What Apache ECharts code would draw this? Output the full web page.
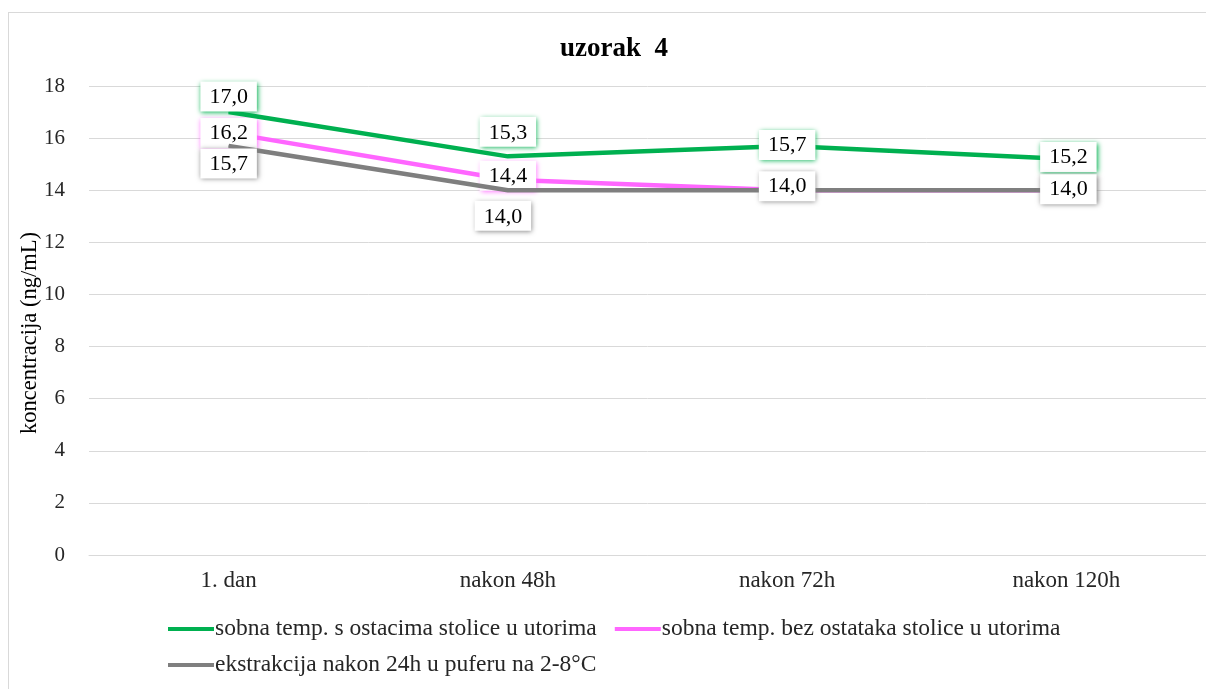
<!DOCTYPE html>
<html>
<head>
<meta charset="utf-8">
<script src="https://cdn.jsdelivr.net/npm/echarts@6/dist/echarts.min.js"></script>
<style>
  html, body { margin: 0; padding: 0; background: #fff; overflow: hidden; }
  #frame { position: absolute; left: 8px; top: 12px; width: 1220px; height: 700px; border: 1px solid #d9d9d9; box-sizing: border-box; }
  #chart { position: absolute; left: 0; top: 0; width: 1206px; height: 689px; }
</style>
</head>
<body>
<div id="frame"></div>
<div id="chart"></div>
<script>
const categories = ['1. dan', 'nakon 48h', 'nakon 72h', 'nakon 120h'];
const seriesNames = [
  'sobna temp. s ostacima stolice u utorima',
  'sobna temp. bez ostataka stolice u utorima',
  'ekstrakcija nakon 24h u puferu na 2-8°C'
];
const greenValues = [17.0, 15.3, 15.7, 15.2];
const pinkValues = [16.2, 14.4, 14.0, 14.0];
const grayValues = [15.7, 14.0, 14.0, 14.0];
const yTicks = [0, 2, 4, 6, 8, 10, 12, 14, 16, 18];
const yTitle = 'koncentracija (ng/mL)';

// value label placement per point: [position, distance, dx, dy, visible]
// (pink labels at 72h/120h sit under the identical gray ones)
const greenLabelPos = [['top', 0, 0, 0, true], ['top', 9, 0, 0, true], ['inside', 0, 0, -1, true], ['inside', 0, 2, -2, true]];
const pinkLabelPos = [['inside', 0, 0, 0, true], ['inside', 0, 0, -4, true], ['inside', 0, 0, -4, false], ['inside', 0, 2, -1, false]];
const grayLabelPos = [['bottom', 2, 0, 0, true], ['bottom', 10, -5, 0, true], ['inside', 0, 0, -4, true], ['inside', 0, 2, -1, true]];

const FONT = '"Liberation Serif", "Times New Roman", serif';
const colors = ['#00B050', '#FF66FF', '#7F7F7F'];

function labelled(values, positions, color) {
  return values.map((v, i) => ({
    value: v,
    label: {
      show: positions[i][4],
      position: positions[i][0],
      distance: positions[i][1],
      offset: [positions[i][2], positions[i][3]],
      shadowColor: color
    }
  }));
}

function makeSeries(name, values, positions, color, z) {
  return {
    name: name,
    type: 'line',
    data: labelled(values, positions, color),
    symbol: 'circle',
    symbolSize: 1,
    showSymbol: true,
    z: z,
    lineStyle: { color: color, width: 4.5 },
    itemStyle: { color: color },
    emphasis: { disabled: true },
    label: {
      show: true,
      formatter: p => p.value.toFixed(1).replace('.', ','),
      fontFamily: FONT,
      fontSize: 22,
      color: '#000',
      backgroundColor: '#fff',
      padding: [5, 9, 3, 9],
      shadowBlur: 5,
      shadowOffsetX: 1,
      shadowOffsetY: 1
    }
  };
}

const legendBase = {
  padding: 0,
  itemWidth: 46,
  itemHeight: 4,
  itemGap: 18,
  icon: 'rect',
  textStyle: { fontFamily: FONT, fontSize: 23.5, color: '#262626', padding: [0, 0, 0, -4] }
};

const chart = echarts.init(document.getElementById('chart'));
chart.setOption({
  animation: false,
  color: colors,
  title: {
    text: 'uzorak  4',
    left: 555,
    top: 31,
    textStyle: { fontFamily: FONT, fontSize: 27, fontWeight: 'bold', color: '#000' }
  },
  // vertical axis title, overlapping the tick column as in the original layout
  graphic: [{
    type: 'text',
    x: 30,
    y: 333,
    rotation: Math.PI / 2,
    style: {
      text: yTitle,
      font: '22.5px ' + FONT,
      fill: '#000',
      align: 'center',
      verticalAlign: 'middle'
    }
  }],
  grid: { left: 89, right: -9, top: 86, bottom: 134 },
  xAxis: {
    type: 'category',
    data: categories,
    boundaryGap: true,
    axisLine: { lineStyle: { color: '#d9d9d9', width: 1 } },
    axisTick: { show: false },
    axisLabel: { fontFamily: FONT, fontSize: 23, color: '#262626', margin: 14 }
  },
  yAxis: {
    type: 'value',
    min: yTicks[0],
    max: yTicks[yTicks.length - 1],
    interval: 2,
    axisLine: { show: false },
    axisTick: { show: false },
    splitLine: { lineStyle: { color: '#d9d9d9', width: 1 } },
    axisLabel: { fontFamily: FONT, fontSize: 21, color: '#262626', margin: 24 }
  },
  legend: [
    Object.assign({ left: 168, top: 617, data: [seriesNames[0], seriesNames[1]] }, legendBase),
    Object.assign({ left: 168, top: 653, data: [seriesNames[2]] }, legendBase)
  ],
  series: [
    makeSeries(seriesNames[1], pinkValues, pinkLabelPos, colors[1], 2),
    makeSeries(seriesNames[0], greenValues, greenLabelPos, colors[0], 3),
    makeSeries(seriesNames[2], grayValues, grayLabelPos, colors[2], 4)
  ]
});
</script>
</body>
</html>
